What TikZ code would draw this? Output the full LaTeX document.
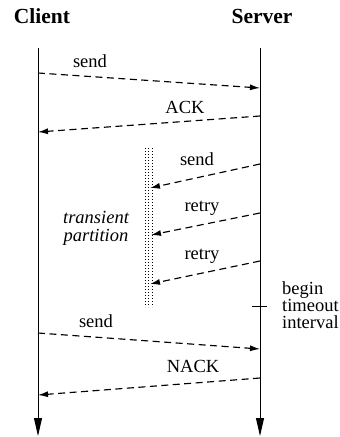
\documentclass[tikz,border=0pt]{standalone}
\usepackage{fontspec}
\setmainfont{Liberation Serif}
\usetikzlibrary{arrows.meta}
\begin{document}
\begin{tikzpicture}[x=1pt,y=-1pt,
  lbl/.style={anchor=base,inner sep=0pt,font=\fontsize{18.5}{18.5}\selectfont},
  head/.style={anchor=base,inner sep=0pt,font=\fontsize{21.5}{21.5}\selectfont\bfseries},
  lifeline/.style={line width=0.9pt,-{Triangle[length=18pt,width=8pt]}},
  msg/.style={line width=1.15pt,dash pattern=on 7pt off 4.5pt,-{Latex[length=10pt,width=6pt]}},
  stipple/.style={line width=0.8pt,dash pattern=on 0.8pt off 2.2pt}]
\useasboundingbox (0,0) rectangle (340,437);

% column headings
\node[head] (client) at (42,23) {Client};
\node[head] (server) at (262,23) {Server};

% lifelines
\coordinate (ctop) at (38,48);
\coordinate (cbot) at (38,436);
\coordinate (stop) at (260,48);
\coordinate (sbot) at (260,436);
\draw[lifeline] (ctop) -- (cbot);
\draw[lifeline] (stop) -- (sbot);

% partition band
\foreach \px in {145,148.5,152}
  \draw[stipple] (\px,148) -- (\px,307);
\node[lbl,font=\fontsize{18.5}{18.5}\selectfont\itshape] (trans) at (96,223) {transient};
\node[lbl,font=\fontsize{18.5}{18.5}\selectfont\itshape] (part) at (96,241) {partition};

% message end points
\coordinate (c1) at (38,73);   \coordinate (s1) at (260,88);
\coordinate (s2) at (260,116); \coordinate (c2) at (38,132);
\coordinate (s3) at (260,164); \coordinate (p3) at (150,188);
\coordinate (s4) at (260,213); \coordinate (p4) at (151,235);
\coordinate (s5) at (260,261); \coordinate (p5) at (150,284);
\coordinate (c6) at (38,333);  \coordinate (s6) at (260,349);
\coordinate (s7) at (260,378); \coordinate (c7) at (38,395);

% messages
\draw[msg] (c1) -- (s1);
\node[lbl] (m1) at (90,67) {send};
\draw[msg] (s2) -- (c2);
\node[lbl] (m2) at (185,113) {ACK};
\draw[msg] (s3) -- (p3);
\node[lbl] (m3) at (197,165) {send};
\draw[msg] (s4) -- (p4);
\node[lbl] (m4) at (202,211) {retry};
\draw[msg] (s5) -- (p5);
\node[lbl] (m5) at (202,259) {retry};
\draw[msg] (c6) -- (s6);
\node[lbl] (m6) at (96,327) {send};
\draw[msg] (s7) -- (c7);
\node[lbl] (m7) at (193,372) {NACK};

% timeout mark
\coordinate (tl) at (252,306);
\coordinate (tr) at (267,306);
\draw[line width=1pt] (tl) -- (tr);
\node[lbl,anchor=base west] (b1) at (282,294) {begin};
\node[lbl,anchor=base west] (b2) at (282,311) {timeout};
\node[lbl,anchor=base west] (b3) at (282,328) {interval};
\end{tikzpicture}
\end{document}
